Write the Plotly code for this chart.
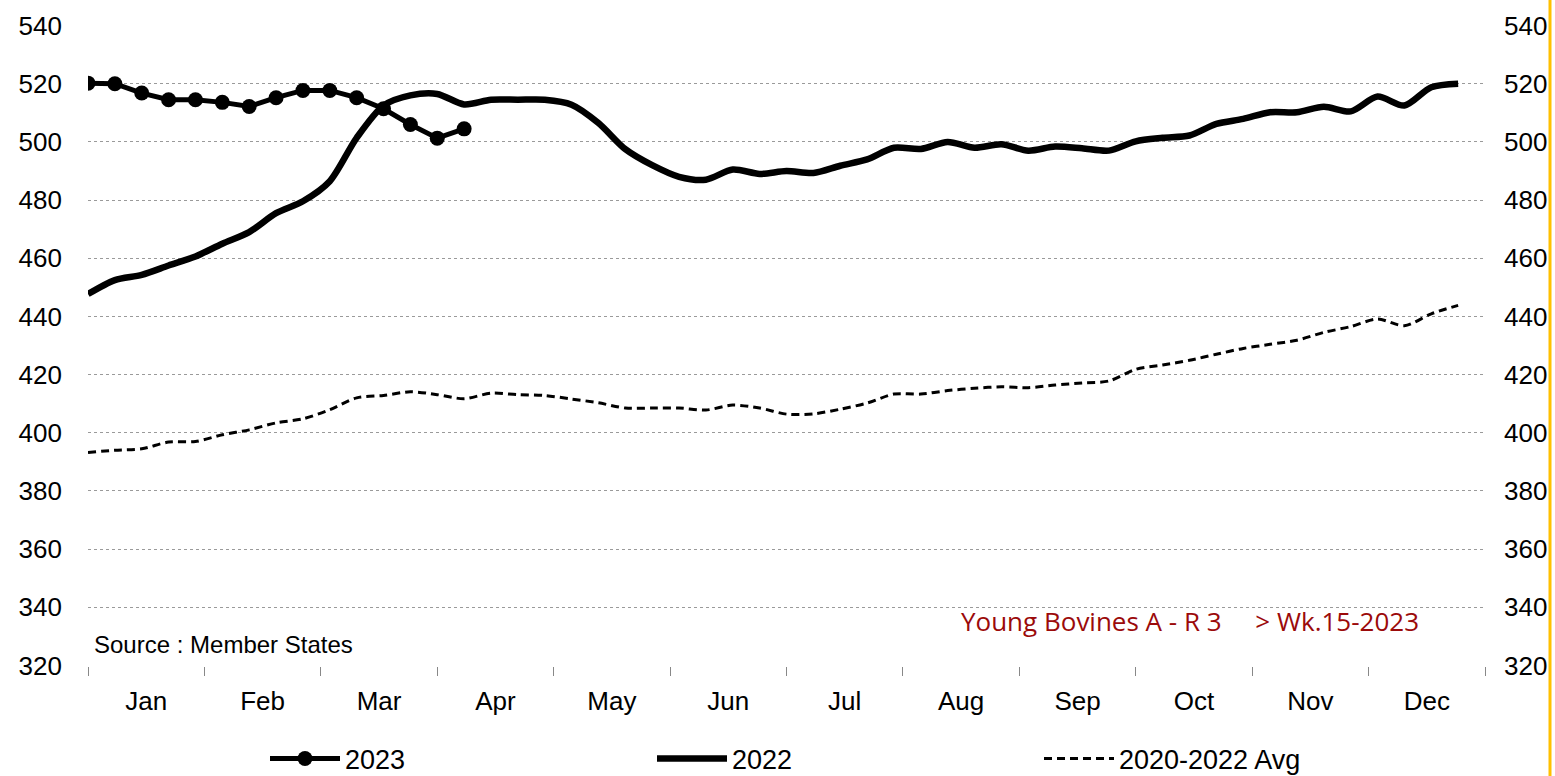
import plotly.graph_objects as go

# ---------------- data ----------------
weeks = list(range(1, 53))
weeks_2023 = list(range(1, 16))

price_2023 = [520.2, 520.0, 516.8, 514.5, 514.5, 513.6, 512.2, 515.2, 517.7, 517.7,
              515.2, 511.4, 506.0, 501.3, 504.5]

price_2022 = [447.7, 452.5, 454.3, 457.5, 460.6, 465.0, 469.0, 475.5, 479.6, 486.5,
              501.4, 512.5, 516.0, 516.5, 512.9, 514.5, 514.5, 514.5, 512.8, 506.5,
              497.5, 492.0, 488.0, 487.0, 490.5, 489.0, 490.0, 489.3, 491.8, 494.0,
              498.0, 497.6, 500.0, 498.0, 499.2, 497.0, 498.4, 497.8, 497.0, 500.2,
              501.4, 502.2, 506.2, 507.9, 510.2, 510.2, 512.1, 510.5, 515.6, 512.5,
              518.8, 520.0]

price_avg = [393.2, 394.0, 394.5, 396.8, 397.0, 399.3, 401.0, 403.4, 404.8, 407.9,
             412.0, 412.8, 414.1, 413.1, 411.7, 413.6, 413.1, 412.8, 411.6, 410.3,
             408.5, 408.5, 408.5, 407.8, 409.5, 408.5, 406.4, 406.5, 408.1, 410.2,
             413.3, 413.3, 414.5, 415.3, 415.8, 415.5, 416.4, 417.1, 417.8, 421.8,
             423.3, 424.9, 427.0, 429.0, 430.4, 431.8, 434.5, 436.5, 439.1, 436.8,
             440.9, 443.8]

months = ["Jan", "Feb", "Mar", "Apr", "May", "Jun", "Jul", "Aug", "Sep", "Oct", "Nov", "Dec"]
y_ticks = list(range(320, 541, 20))

# -------------- derived axis positions --------------
x_start, x_end = 1, 53
mw = (x_end - x_start) / 12
month_centers = [x_start + (i + 0.5) * mw for i in range(12)]
month_bounds = [x_start + i * mw for i in range(13)]

FONT = "Liberation Sans, Arial, sans-serif"
W, H = 1555, 776

fig = go.Figure()

fig.add_trace(go.Scatter(
    x=weeks_2023, y=price_2023, name="2023", mode="lines+markers",
    line=dict(color="black", width=5),
    marker=dict(color="black", size=15),
))
fig.add_trace(go.Scatter(
    x=weeks, y=price_2022, name="2022", mode="lines",
    line=dict(color="black", width=6.5, shape="spline", smoothing=0.8),
))
fig.add_trace(go.Scatter(
    x=weeks, y=price_avg, name="2020-2022 Avg", mode="lines",
    line=dict(color="black", width=3, dash="8px,5px", shape="spline", smoothing=0.8),
))
# invisible trace so the right-hand axis renders
fig.add_trace(go.Scatter(
    x=weeks, y=price_avg, yaxis="y2", mode="lines", showlegend=False,
    line=dict(color="rgba(0,0,0,0)", width=0), hoverinfo="skip",
))

yr = [319.8, 540.2]
fig.update_layout(
    template="none",
    width=W, height=H,
    margin=dict(l=88, r=70, t=25, b=110, autoexpand=False),
    paper_bgcolor="white", plot_bgcolor="white",
    font=dict(family=FONT, color="black"),
    hovermode=False,
    xaxis=dict(
        range=[x_start, x_end], showgrid=False, zeroline=False, showline=False,
        automargin=False,
        tickmode="array", tickvals=month_centers, ticktext=months,
        ticks="", tickfont=dict(size=26), ticklabelstandoff=17,
        minor=dict(tickmode="array", tickvals=month_bounds, ticks="outside",
                   ticklen=9, tickcolor="#888", tickwidth=1, showgrid=False),
    ),
    yaxis=dict(
        range=yr, tickmode="array", tickvals=y_ticks, ticks="",
        showgrid=True, gridcolor="#9a9a9a", gridwidth=1, griddash="dot",
        zeroline=False, showline=False, tickfont=dict(size=26),
        ticklabelstandoff=25, automargin=False,
    ),
    yaxis2=dict(
        range=yr, overlaying="y", side="right", tickmode="array", tickvals=y_ticks,
        ticks="", showgrid=False, zeroline=False, showline=False,
        tickfont=dict(size=26), ticklabelstandoff=18, automargin=False,
    ),
    legend=dict(
        orientation="h", xref="container", yref="container",
        x=265 / W, xanchor="left", y=1 - 759 / H, yanchor="middle",
        font=dict(size=27), itemwidth=70, entrywidth=302, entrywidthmode="pixels",
        bgcolor="rgba(0,0,0,0)", traceorder="normal",
    ),
    annotations=[
        dict(text="Source : Member States", xref="paper", yref="paper",
             x=(92 - 88) / 1397, y=(666 - 644) / 641, xanchor="left", yanchor="middle",
             showarrow=False, font=dict(size=24, family=FONT)),
        dict(text="Young Bovines A - R 3&nbsp;&nbsp;&nbsp;&nbsp;&nbsp;&gt; Wk.15-2023",
             xref="paper", yref="paper",
             x=(1190 - 88) / 1397, y=(666 - 621) / 641, xanchor="center", yanchor="middle",
             showarrow=False, font=dict(size=26, family="Open Sans, sans-serif", color="#9b0a0a")),
    ],
    shapes=[
        dict(type="line", xref="paper", yref="paper",
             x0=(1550 - 88) / 1397, x1=(1550 - 88) / 1397,
             y0=-110 / 641, y1=1 + 25 / 641,
             line=dict(color="#FFC000", width=3)),
    ],
)

fig.write_html(
    "out.html",
    config={"displayModeBar": False},
    post_script="document.body.style.margin='0';document.body.style.overflow='hidden';",
)
